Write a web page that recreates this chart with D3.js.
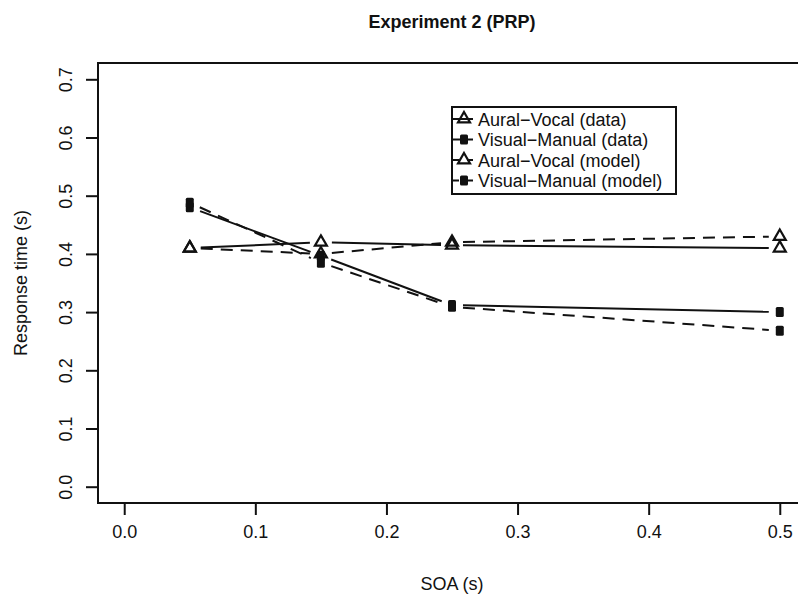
<!DOCTYPE html>
<html>
<head>
<meta charset="utf-8">
<script src="https://cdn.jsdelivr.net/npm/d3@7"></script>
<style>
  body { margin: 0; background: #fff; }
  text { font-family: "Liberation Sans", Arial, sans-serif; fill: #111; }
</style>
</head>
<body>
<div id="chart"></div>
<script>
const width = 798;
const height = 596;

// SOA values (s) and the four series
const soa = [0.05, 0.15, 0.25, 0.5];
const auralVocalData = [0.41, 0.42, 0.415, 0.41];
const visualManualData = [0.48, 0.397, 0.312, 0.30];
const auralVocalModel = [0.41, 0.40, 0.42, 0.43];
const visualManualModel = [0.488, 0.385, 0.309, 0.268];

const xTicks = [0, 0.1, 0.2, 0.3, 0.4, 0.5];
const yTicks = [0, 0.1, 0.2, 0.3, 0.4, 0.5, 0.6, 0.7];

const legendLabels = ["Aural\u2212Vocal (data)", "Visual\u2212Manual (data)",
    "Aural\u2212Vocal (model)", "Visual\u2212Manual (model)"];

const series = [
    {values: auralVocalData, shape: "triangle", dashed: false},
    {values: visualManualData, shape: "square", dashed: false},
    {values: auralVocalModel, shape: "triangle", dashed: true},
    {values: visualManualModel, shape: "square", dashed: true}
];

// plot region (R style, with 4% extension on both axes); right edge runs off the page
const plot = {left: 98, right: 806, top: 63, bottom: 503};

const x = d3.scaleLinear().domain([-0.02, 0.52]).range([plot.left, plot.right]);
const y = d3.scaleLinear().domain([-0.028, 0.728]).range([plot.bottom, plot.top]);

const svg = d3.select("#chart").append("svg")
    .attr("width", width)
    .attr("height", height);

// box (left, top, bottom; right side is outside the picture)
svg.append("rect")
    .attr("x", plot.left).attr("y", plot.top)
    .attr("width", plot.right - plot.left).attr("height", plot.bottom - plot.top)
    .attr("fill", "none").attr("stroke", "#111").attr("stroke-width", 2);

// axes
const xAxis = d3.axisBottom(x).tickValues(xTicks).tickFormat(d3.format(".1f")).tickSize(12).tickPadding(10);
const yAxis = d3.axisLeft(y).tickValues(yTicks).tickFormat(d3.format(".1f")).tickSize(12).tickPadding(10);

const gx = svg.append("g").attr("transform", `translate(0,${plot.bottom})`).call(xAxis);
gx.select(".domain").remove();
gx.selectAll("line").attr("stroke", "#111").attr("stroke-width", 2);
gx.selectAll("text").attr("font-size", 18).attr("fill", "#111")
    .attr("font-family", "Liberation Sans, Arial, sans-serif");

const gy = svg.append("g").attr("transform", `translate(${plot.left},0)`).call(yAxis);
gy.select(".domain").remove();
gy.selectAll("line").attr("stroke", "#111").attr("stroke-width", 2);
gy.selectAll("text")
    .attr("font-size", 18).attr("fill", "#111")
    .attr("font-family", "Liberation Sans, Arial, sans-serif")
    .attr("x", null).attr("dy", null)
    .attr("text-anchor", "middle")
    .attr("transform", "translate(-26,0) rotate(-90)");

// titles
svg.append("text")
    .attr("x", (plot.left + plot.right) / 2).attr("y", 28)
    .attr("text-anchor", "middle").attr("font-size", 18).attr("font-weight", "bold")
    .text("Experiment 2 (PRP)");

svg.append("text")
    .attr("x", (plot.left + plot.right) / 2).attr("y", 590)
    .attr("text-anchor", "middle").attr("font-size", 18)
    .text("SOA (s)");

svg.append("text")
    .attr("transform", `translate(27,${(plot.top + plot.bottom) / 2}) rotate(-90)`)
    .attr("text-anchor", "middle").attr("font-size", 18)
    .text("Response time (s)");

// symbols
function drawSymbol(g, shape, cx, cy) {
    if (shape === "triangle") {
        const s = 12;
        const top = s / Math.sqrt(3), base = s / (2 * Math.sqrt(3));
        g.append("path")
            .attr("d", `M${cx},${cy - top}L${cx + s / 2},${cy + base}L${cx - s / 2},${cy + base}Z`)
            .attr("fill", "none").attr("stroke", "#111").attr("stroke-width", 2.2)
            .attr("stroke-linejoin", "miter");
    } else {
        g.append("rect")
            .attr("x", cx - 4).attr("y", cy - 5)
            .attr("width", 8).attr("height", 10).attr("rx", 1.5)
            .attr("fill", "#111");
    }
}

// lines with gaps around points (type = "b")
const gap = 11;
const marks = svg.append("g");
series.forEach(s => {
    const pts = soa.map((d, i) => [x(d), y(s.values[i])]);
    for (let i = 0; i < pts.length - 1; i++) {
        const [x0, y0] = pts[i], [x1, y1] = pts[i + 1];
        const len = Math.hypot(x1 - x0, y1 - y0);
        const ux = (x1 - x0) / len, uy = (y1 - y0) / len;
        marks.append("line")
            .attr("x1", x0 + ux * gap).attr("y1", y0 + uy * gap)
            .attr("x2", x1 - ux * gap).attr("y2", y1 - uy * gap)
            .attr("stroke", "#111").attr("stroke-width", 2)
            .attr("stroke-dasharray", s.dashed ? "12,8" : null);
    }
    pts.forEach(p => drawSymbol(marks, s.shape, p[0], p[1]));
});

// legend
const legend = {x: 452, y: 107, w: 224, h: 87, rowStart: 119, rowStep: 20.5};
const lg = svg.append("g");
lg.append("rect")
    .attr("x", legend.x).attr("y", legend.y)
    .attr("width", legend.w).attr("height", legend.h)
    .attr("fill", "#fff").attr("stroke", "#111").attr("stroke-width", 2);

series.forEach((s, i) => {
    const ry = legend.rowStart + i * legend.rowStep;
    lg.append("line")
        .attr("x1", legend.x + 1).attr("x2", legend.x + 21)
        .attr("y1", ry).attr("y2", ry)
        .attr("stroke", "#111").attr("stroke-width", 2)
        .attr("stroke-dasharray", s.dashed ? "6,8" : null);
    drawSymbol(lg, s.shape, legend.x + 12, ry);
    lg.append("text")
        .attr("x", legend.x + 26).attr("y", ry + 6.5)
        .attr("font-size", 18)
        .text(legendLabels[i]);
});
</script>
</body>
</html>
